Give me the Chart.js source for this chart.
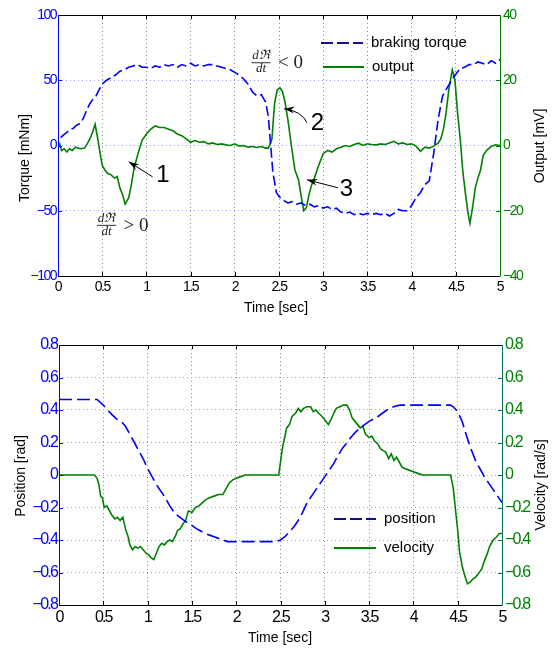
<!DOCTYPE html>
<html>
<head>
<meta charset="utf-8">
<script src="https://cdn.jsdelivr.net/npm/chart.js@4.4.1/dist/chart.umd.min.js"></script>
<style>
  body { margin: 0; background: #fff; }
  #wrap { position: relative; width: 556px; height: 649px; }
  canvas { position: absolute; left: 0; }
  #c1 { top: 0; }
  #c2 { top: 325px; }
</style>
</head>
<body>
<div id="wrap">
  <canvas id="c1" width="556" height="325"></canvas>
  <canvas id="c2" width="556" height="324"></canvas>
</div>
<script>
// --- datos del grafico superior ---
const tTorque = [0.03, 0.06, 0.1, 0.13, 0.17, 0.2, 0.25, 0.28, 0.3, 0.33, 0.36, 0.4, 0.43, 0.46, 0.5, 0.55, 0.6, 0.65, 0.7, 0.75,
  0.8, 0.85, 0.9, 0.95, 1.0, 1.05, 1.1, 1.15, 1.2, 1.25, 1.3, 1.35, 1.4, 1.45, 1.5, 1.55, 1.6, 1.65, 1.7, 1.75,
  1.8, 1.85, 1.9, 1.95, 2.0, 2.05, 2.1, 2.15, 2.2, 2.25, 2.3, 2.35, 2.38, 2.4, 2.43, 2.47, 2.5, 2.55, 2.6, 2.65,
  2.7, 2.75, 2.8, 2.85, 2.9, 2.95, 3.0, 3.05, 3.1, 3.15, 3.2, 3.25, 3.3, 3.35, 3.4, 3.45, 3.5, 3.55, 3.6, 3.65,
  3.7, 3.75, 3.8, 3.85, 3.9, 3.95, 4.0, 4.05, 4.1, 4.15, 4.2, 4.25, 4.3, 4.35, 4.4, 4.47, 4.55, 4.6, 4.65, 4.7,
  4.75, 4.8, 4.85, 4.9, 4.95, 5.0];
const torque = [6, 8, 10, 12, 13, 15, 17, 20, 23, 28, 32, 36, 38, 42, 47, 50, 52, 54, 57, 58,
  60, 61, 62, 60, 60, 59, 61, 60, 62, 61, 62, 60, 62, 61, 63, 61, 62, 61, 62, 62,
  61, 60, 59, 58, 56, 54, 51, 47, 41, 38, 39, 33, 22, 5, -20, -36, -39, -42, -44, -43,
  -45, -44, -46, -45, -47, -46, -48, -47, -49, -48, -51, -52, -51, -53, -52, -53, -52, -53, -52, -53,
  -52, -54, -52, -49, -50, -50, -46, -40, -36, -30, -27, -6, 20, 38, 44, 52, 59, 60, 62, 62,
  64, 63, 62, 65, 63, 66];

const tOutput = [0, 0.02, 0.04, 0.07, 0.1, 0.13, 0.16, 0.2, 0.25, 0.3, 0.33, 0.36, 0.39, 0.42, 0.45, 0.48, 0.5, 0.53, 0.56, 0.6,
  0.64, 0.67, 0.7, 0.73, 0.76, 0.78, 0.8, 0.83, 0.86, 0.9, 0.95, 1.0, 1.05, 1.1, 1.15, 1.2, 1.25, 1.3, 1.35, 1.4,
  1.45, 1.5, 1.55, 1.6, 1.65, 1.7, 1.75, 1.8, 1.85, 1.9, 1.95, 2.0, 2.05, 2.1, 2.15, 2.2, 2.25, 2.3, 2.35, 2.38,
  2.42, 2.45, 2.48, 2.51, 2.54, 2.57, 2.6, 2.64, 2.68, 2.72, 2.76, 2.78, 2.81, 2.84, 2.87, 2.9, 2.95, 3.0, 3.05, 3.1,
  3.15, 3.2, 3.25, 3.3, 3.35, 3.4, 3.45, 3.5, 3.55, 3.6, 3.65, 3.7, 3.75, 3.8, 3.85, 3.9, 3.95, 4.0, 4.05, 4.1,
  4.15, 4.2, 4.25, 4.3, 4.33, 4.36, 4.39, 4.42, 4.46, 4.49, 4.52, 4.55, 4.58, 4.61, 4.64, 4.66, 4.69, 4.72, 4.75, 4.78,
  4.81, 4.85, 4.9, 4.95, 5.0];
const output = [-1, 0.5, -1.5, -1, -2, -1, -1.5, -0.5, -1, -0.8, 0.5, 2, 4, 6.5, 2, -3, -6, -7.5, -8.5, -9,
  -10, -9.5, -13, -15, -18, -17, -16, -12, -7, -3, 1.5, 3.5, 5, 6, 5.5, 5.5, 5, 4.5, 3.5, 3,
  2, 1, 1.5, 1, 1.2, 0.5, 0.8, 0.3, 0.5, 0.2, 0, 0.5, -0.2, 0, -0.5, -0.3, -0.6, -0.3, -0.8, -0.8,
  2, 13, 17, 17.7, 16.5, 13, 8, 0, -7.5, -10.5, -17, -20, -19, -15, -12, -10, -6, -2.5, -1.5, -2,
  -1, -0.5, 0, -0.3, 0.3, 0.7, 0, 0.5, 0.3, 0.2, 0.5, 0.3, 0.8, 1.3, 0.5, 0.8, 0.3, 0.5, -0.2, -1.8,
  -0.5, -0.8, -0.2, 0.7, 2, 5, 10, 17, 23.2, 20, 10, 2, -8, -15, -21, -23.8, -19, -13, -10, -7.5,
  -3, -1.5, -0.3, 0.2, 0];

// --- datos del grafico inferior ---
const tPosition = [0, 0.43, 0.5, 0.55, 0.6, 0.65, 0.7, 0.75, 0.8, 0.85, 0.9, 0.95, 1.0, 1.05, 1.1, 1.15, 1.2, 1.25, 1.3, 1.35,
  1.4, 1.45, 1.5, 1.55, 1.6, 1.65, 1.7, 1.75, 1.8, 1.85, 1.9, 2.45, 2.5, 2.55, 2.6, 2.65, 2.7, 2.75, 2.8, 2.85,
  2.9, 2.95, 3.0, 3.05, 3.1, 3.15, 3.2, 3.25, 3.3, 3.35, 3.4, 3.45, 3.5, 3.55, 3.6, 3.65, 3.7, 3.75, 3.8, 3.85,
  4.42, 4.45, 4.5, 4.55, 4.6, 4.65, 4.7, 4.75, 4.8, 4.85, 4.9, 4.95, 5.0];
const position = [0.465, 0.465, 0.43, 0.40, 0.37, 0.345, 0.33, 0.30, 0.25, 0.20, 0.15, 0.10, 0.04, -0.01, -0.06, -0.10, -0.14, -0.19, -0.23, -0.255,
  -0.275, -0.295, -0.31, -0.33, -0.345, -0.36, -0.37, -0.38, -0.39, -0.40, -0.41, -0.41, -0.40, -0.38, -0.35, -0.32, -0.28, -0.23, -0.17, -0.13,
  -0.09, -0.05, -0.01, 0.03, 0.07, 0.12, 0.165, 0.20, 0.235, 0.265, 0.29, 0.31, 0.33, 0.345, 0.36, 0.38, 0.40, 0.415, 0.425, 0.43,
  0.43, 0.42, 0.39, 0.33, 0.24, 0.16, 0.09, 0.04, -0.01, -0.05, -0.09, -0.13, -0.17];

const tVelocity = [0, 0.4, 0.43, 0.45, 0.47, 0.49, 0.51, 0.54, 0.57, 0.6, 0.63, 0.66, 0.69, 0.72, 0.75, 0.78, 0.8, 0.83, 0.86, 0.89,
  0.92, 0.95, 0.98, 1.01, 1.04, 1.07, 1.1, 1.13, 1.16, 1.19, 1.22, 1.25, 1.28, 1.31, 1.34, 1.37, 1.4, 1.43, 1.46, 1.5,
  1.54, 1.58, 1.62, 1.66, 1.7, 1.75, 1.8, 1.85, 1.88, 1.92, 1.96, 2.0, 2.05, 2.1, 2.48, 2.5, 2.52, 2.55, 2.57, 2.6,
  2.63, 2.67, 2.7, 2.73, 2.76, 2.8, 2.84, 2.87, 2.9, 2.93, 2.97, 3.0, 3.04, 3.07, 3.1, 3.13, 3.17, 3.21, 3.25, 3.28,
  3.31, 3.34, 3.37, 3.4, 3.43, 3.46, 3.5, 3.53, 3.56, 3.6, 3.63, 3.66, 3.69, 3.72, 3.75, 3.78, 3.81, 3.84, 3.87, 3.9,
  3.95, 4.0, 4.05, 4.1, 4.42, 4.45, 4.48, 4.5, 4.52, 4.55, 4.58, 4.61, 4.64, 4.67, 4.7, 4.73, 4.77, 4.8, 4.83, 4.86,
  4.9, 4.94, 4.97, 5.0];
const velocity = [0, 0, -0.02, -0.06, -0.13, -0.14, -0.2, -0.19, -0.22, -0.25, -0.27, -0.26, -0.28, -0.26, -0.33, -0.38, -0.43, -0.46, -0.44, -0.45,
  -0.44, -0.46, -0.48, -0.49, -0.51, -0.52, -0.48, -0.44, -0.42, -0.43, -0.41, -0.40, -0.41, -0.38, -0.34, -0.33, -0.30, -0.28, -0.22, -0.23,
  -0.2, -0.19, -0.17, -0.15, -0.14, -0.13, -0.12, -0.12, -0.09, -0.05, -0.03, -0.02, -0.01, 0, 0, 0.08, 0.16, 0.24, 0.29, 0.31,
  0.36, 0.38, 0.41, 0.39, 0.41, 0.42, 0.42, 0.39, 0.40, 0.38, 0.36, 0.34, 0.31, 0.34, 0.38, 0.41, 0.42, 0.43, 0.43, 0.40,
  0.35, 0.33, 0.31, 0.29, 0.30, 0.25, 0.23, 0.24, 0.21, 0.19, 0.16, 0.15, 0.14, 0.1, 0.13, 0.09, 0.11, 0.08, 0.05, 0.04,
  0.03, 0.02, 0.01, 0, 0, -0.08, -0.24, -0.34, -0.47, -0.56, -0.62, -0.67, -0.66, -0.64, -0.63, -0.61, -0.58, -0.53, -0.49, -0.44,
  -0.40, -0.38, -0.36, -0.36];

// --- colores ---
const AZUL = '#0000ff';
const VERDE = '#008000';
const FUENTE = '"Liberation Sans", Arial, sans-serif';
const SERIF = '"Liberation Serif", "DejaVu Serif", serif';

function puntos(xs, ys) {
  return xs.map((x, i) => ({ x: x, y: ys[i] }));
}

// etiqueta estilo MATLAB: 0, 0.5, -0.2 ...
function formatoTick(v) {
  const r = Math.round(v * 1000) / 1000;
  const s = String(Math.abs(r));
  return (r < 0 ? '\u2212' : '') + s;
}

// --- plugin: espaciado de ticks, marco, titulos, leyenda, notas ---
const marcoPlugin = {
  id: 'marco',
  beforeDraw(chart, args, opts) {
    chart.ctx.letterSpacing = opts.espaciado;
  },
  beforeDatasetsDraw(chart) {
    chart.ctx.letterSpacing = '0px';
  },
  afterDraw(chart, args, opts) {
    const ctx = chart.ctx;
    const a = chart.chartArea;
    const sx = chart.scales.x, sy = chart.scales.y, sy2 = chart.scales.y2;
    ctx.save();
    ctx.letterSpacing = '0px';
    ctx.lineWidth = 1;
    // ticks internos en x
    ctx.strokeStyle = '#000';
    ctx.beginPath();
    for (let v = 0; v <= 5.0001; v += 0.5) {
      const px = Math.round(sx.getPixelForValue(v)) + 0.5;
      ctx.moveTo(px, a.bottom); ctx.lineTo(px, a.bottom - 4);
      ctx.moveTo(px, a.top); ctx.lineTo(px, a.top + 4);
    }
    ctx.stroke();
    // ticks internos en y
    ctx.strokeStyle = AZUL;
    ctx.beginPath();
    sy.ticks.forEach(t => {
      const py = Math.round(sy.getPixelForValue(t.value)) + 0.5;
      ctx.moveTo(a.left, py); ctx.lineTo(a.left + 4, py);
    });
    ctx.stroke();
    ctx.strokeStyle = opts.colorDerecho;
    ctx.beginPath();
    sy2.ticks.forEach(t => {
      const py = Math.round(sy2.getPixelForValue(t.value)) + 0.5;
      ctx.moveTo(a.right, py); ctx.lineTo(a.right - 4, py);
    });
    ctx.stroke();
    // bordes
    ctx.strokeStyle = '#000';
    ctx.beginPath();
    ctx.moveTo(a.left, Math.round(a.top) + 0.5); ctx.lineTo(a.right, Math.round(a.top) + 0.5);
    ctx.moveTo(a.left, Math.round(a.bottom) + 0.5); ctx.lineTo(a.right, Math.round(a.bottom) + 0.5);
    ctx.stroke();
    ctx.strokeStyle = AZUL;
    ctx.beginPath();
    ctx.moveTo(Math.round(a.left) + 0.5, a.top); ctx.lineTo(Math.round(a.left) + 0.5, a.bottom + 0.5);
    ctx.stroke();
    ctx.strokeStyle = opts.colorDerecho;
    ctx.beginPath();
    ctx.moveTo(Math.round(a.right) + 0.5, a.top); ctx.lineTo(Math.round(a.right) + 0.5, a.bottom + 0.5);
    ctx.stroke();

    // titulos de ejes
    ctx.fillStyle = '#000';
    ctx.font = '14px ' + FUENTE;
    ctx.textAlign = 'center';
    ctx.textBaseline = 'middle';
    ctx.fillText(opts.tituloX, opts.posX[0], opts.posX[1]);
    [[opts.tituloY, opts.posY], [opts.tituloY2, opts.posY2]].forEach(([txt, p]) => {
      ctx.save();
      ctx.translate(p[0], p[1]);
      ctx.rotate(-Math.PI / 2);
      ctx.fillText(txt, 0, 0);
      ctx.restore();
    });

    // leyenda
    ctx.font = '15px ' + FUENTE;
    ctx.textAlign = 'left';
    opts.leyenda.forEach(l => {
      ctx.strokeStyle = l.color;
      ctx.lineWidth = 2;
      ctx.setLineDash(l.dash);
      ctx.beginPath();
      ctx.moveTo(l.x0, l.y); ctx.lineTo(l.x1, l.y);
      ctx.stroke();
      ctx.setLineDash([]);
      ctx.fillStyle = '#000';
      ctx.fillText(l.texto, l.x1 + 8, l.y);
    });

    // notas: fracciones y flechas
    (opts.fracciones || []).forEach(f => {
      const cx = sx.getPixelForValue(f.t), by = sy.getPixelForValue(f.v);
      ctx.fillStyle = '#222';
      ctx.strokeStyle = '#333';
      ctx.lineWidth = 1;
      ctx.textAlign = 'center';
      ctx.textBaseline = 'alphabetic';
      ctx.font = 'italic 13px ' + SERIF;
      ctx.fillText('d\u211C', cx, by - 3);
      ctx.fillText('dt', cx, by + 10);
      ctx.beginPath();
      ctx.moveTo(cx - 9.5, by + 0.5); ctx.lineTo(cx + 9.5, by + 0.5);
      ctx.stroke();
      ctx.font = '19px ' + SERIF;
      ctx.textAlign = 'left';
      ctx.fillText(f.rel, cx + 17, by + 6);
    });
    (opts.flechas || []).forEach(f => {
      const px = v => [sx.getPixelForValue(v[0]), sy.getPixelForValue(v[1])];
      const tip = px(f.punta), tail = px(f.cola);
      ctx.strokeStyle = '#000';
      ctx.fillStyle = '#000';
      ctx.lineWidth = 1;
      ctx.beginPath();
      ctx.moveTo(tail[0], tail[1]);
      let dir;
      if (f.control) {
        const c = px(f.control);
        ctx.quadraticCurveTo(c[0], c[1], tip[0], tip[1]);
        dir = Math.atan2(tip[1] - c[1], tip[0] - c[0]);
      } else {
        ctx.lineTo(tip[0], tip[1]);
        dir = Math.atan2(tip[1] - tail[1], tip[0] - tail[0]);
      }
      ctx.stroke();
      ctx.beginPath();
      ctx.moveTo(tip[0], tip[1]);
      ctx.lineTo(tip[0] - 11 * Math.cos(dir - 0.32), tip[1] - 11 * Math.sin(dir - 0.32));
      ctx.lineTo(tip[0] - 7 * Math.cos(dir), tip[1] - 7 * Math.sin(dir));
      ctx.lineTo(tip[0] - 11 * Math.cos(dir + 0.32), tip[1] - 11 * Math.sin(dir + 0.32));
      ctx.closePath();
      ctx.fill();
      const lp = px(f.etiqueta);
      ctx.font = '24px ' + FUENTE;
      ctx.textAlign = 'center';
      ctx.textBaseline = 'middle';
      ctx.fillText(f.texto, lp[0], lp[1]);
    });
    ctx.restore();
  }
};

function escalas(yMin, yMax, yStep, y2Min, y2Max, y2Step, tamTick, anchoIzq, anchoDer, altoX) {
  const fuenteTick = { family: FUENTE, size: tamTick };
  return {
    x: {
      type: 'linear', min: 0, max: 5,
      ticks: { stepSize: 0.5, color: '#000', font: fuenteTick, padding: 3, maxRotation: 0, callback: formatoTick },
      grid: { color: '#8c8c8c', drawTicks: false, lineWidth: 1 },
      border: { display: false, dash: [1, 3] },
      afterFit: s => { s.height = altoX; }
    },
    y: {
      position: 'left', min: yMin, max: yMax,
      ticks: { stepSize: yStep, color: AZUL, font: fuenteTick, padding: 2, callback: formatoTick },
      grid: { color: '#9a9aff', drawTicks: false, lineWidth: 1 },
      border: { display: false, dash: [1, 3] },
      afterFit: s => { s.width = anchoIzq; }
    },
    y2: {
      position: 'right', min: y2Min, max: y2Max,
      ticks: { stepSize: y2Step, color: VERDE, font: fuenteTick, padding: 3, callback: formatoTick },
      grid: { display: false, drawTicks: false },
      border: { display: false },
      afterFit: s => { s.width = anchoDer; }
    }
  };
}

function crearGraficoSuperior() {
  new Chart(document.getElementById('c1'), {
    type: 'line',
    data: {
      datasets: [
        { label: 'braking torque', data: puntos(tTorque, torque), yAxisID: 'y',
          borderColor: AZUL, borderWidth: 1.6, borderDash: [10, 4], pointRadius: 0, tension: 0 },
        { label: 'output', data: puntos(tOutput, output), yAxisID: 'y2',
          borderColor: VERDE, borderWidth: 1.6, pointRadius: 0, tension: 0 }
      ]
    },
    options: {
      responsive: false, animation: false,
      layout: { padding: { top: 15, left: 0, right: 0, bottom: 0 } },
      plugins: {
        legend: { display: false }, tooltip: { enabled: false },
        marco: {
          espaciado: '-1.5px',
          colorDerecho: VERDE,
          tituloX: 'Time [sec]', posX: [276, 308],
          tituloY: 'Torque [mNm]', posY: [25, 158],
          tituloY2: 'Output [mV]', posY2: [540, 146],
          leyenda: [
            { texto: 'braking torque', x0: 321, x1: 363, y: 43, color: '#10108c', dash: [12, 4] },
            { texto: 'output', x0: 323, x1: 364, y: 67, color: VERDE, dash: [] }
          ],
          fracciones: [
            { t: 0.549, v: -60.8, rel: '> 0' },
            { t: 2.296, v: 63.8, rel: '< 0' }
          ],
          flechas: [
            { punta: [0.80, -12.5], cola: [1.07, -24], etiqueta: [1.188, -23.2], texto: '1' },
            { punta: [2.557, 28.1], cola: [2.817, 17.4], control: [2.757, 26.5], etiqueta: [2.935, 17], texto: '2' },
            { punta: [2.817, -26.3], cola: [3.167, -32.4], etiqueta: [3.264, -34], texto: '3' }
          ]
        }
      },
      scales: escalas(-100, 100, 50, -40, 40, 20, 14, 58, 56, 49)
    },
    plugins: [marcoPlugin]
  });
}

function crearGraficoInferior() {
  new Chart(document.getElementById('c2'), {
    type: 'line',
    data: {
      datasets: [
        { label: 'position', data: puntos(tPosition, position), yAxisID: 'y',
          borderColor: AZUL, borderWidth: 1.6, borderDash: [13, 5], pointRadius: 0, tension: 0 },
        { label: 'velocity', data: puntos(tVelocity, velocity), yAxisID: 'y2',
          borderColor: VERDE, borderWidth: 1.6, pointRadius: 0, tension: 0 }
      ]
    },
    options: {
      responsive: false, animation: false,
      layout: { padding: { top: 20, left: 0, right: 0, bottom: 0 } },
      plugins: {
        legend: { display: false }, tooltip: { enabled: false },
        marco: {
          espaciado: '-1.8px',
          colorDerecho: '#0a7060',
          tituloX: 'Time [sec]', posX: [280, 313],
          tituloY: 'Position [rad]', posY: [21, 151],
          tituloY2: 'Velocity [rad/s]', posY2: [541, 160],
          leyenda: [
            { texto: 'position', x0: 334, x1: 376, y: 194, color: '#10108c', dash: [12, 4] },
            { texto: 'velocity', x0: 334, x1: 376, y: 223, color: VERDE, dash: [] }
          ]
        }
      },
      scales: escalas(-0.8, 0.8, 0.2, -0.8, 0.8, 0.2, 16, 59, 54, 44)
    },
    plugins: [marcoPlugin]
  });
}

document.addEventListener('DOMContentLoaded', () => {
  crearGraficoSuperior();
  crearGraficoInferior();
});
</script>
</body>
</html>
